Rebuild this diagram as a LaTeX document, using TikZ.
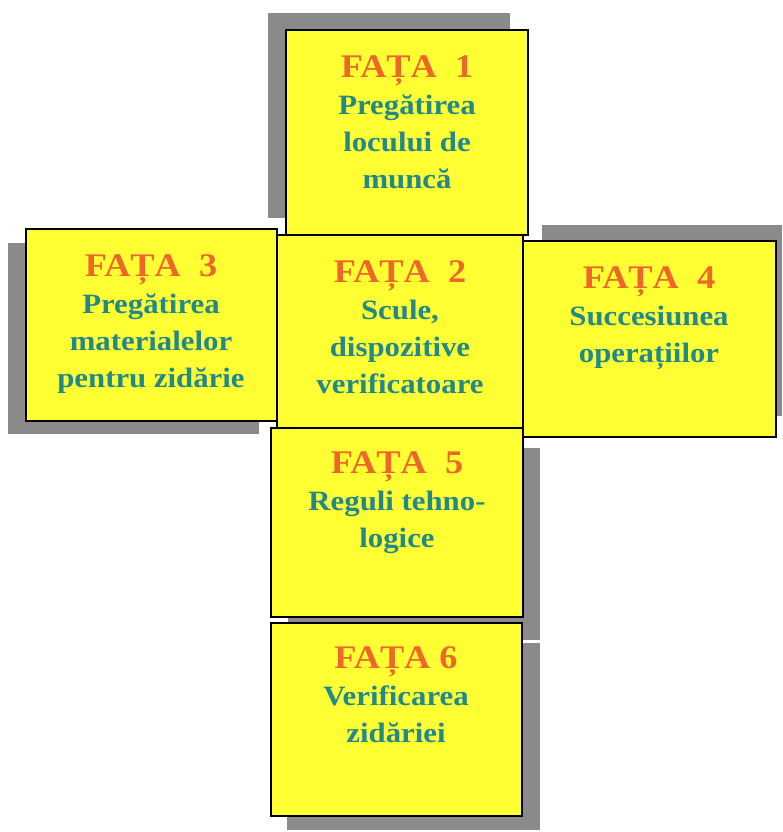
\documentclass[tikz,border=0pt]{standalone}
\usepackage{fontspec}
\setmainfont{Liberation Serif}[FakeStretch=1.1]
\usepackage{tikz}

\definecolor{faceyellow}{HTML}{FFFF33}
\definecolor{shadowgray}{HTML}{8A8A8A}
\definecolor{titleorange}{HTML}{EE6629}
\definecolor{bodyteal}{HTML}{21898A}

\tikzset{
	cubeface/.style={draw=black, line width=1.3pt, fill=faceyellow},
	backshadow/.style={draw=none, fill=shadowgray},
	facetext/.style={anchor=north, align=center, inner sep=0pt, text=bodyteal,
		font=\bfseries\fontsize{28}{37}\selectfont},
	facetitle/.style={text=titleorange, font=\bfseries\fontsize{33}{37}\selectfont}
}

\begin{document}
\begin{tikzpicture}[x=1pt, y=-1pt]
	\useasboundingbox (0, 0) rectangle (782, 832);
	% shadows
	\fill[backshadow] (268, 13) rectangle (510, 218);
	\fill[backshadow] (8, 243) rectangle (259, 434);
	\fill[backshadow] (542, 225) rectangle (782, 416);
	\fill[backshadow] (288, 448) rectangle (540, 640);
	\fill[backshadow] (287, 643) rectangle (540, 830);
	% faces
	\draw[cubeface] (286, 30) rectangle (528, 235);
	\draw[cubeface] (26, 229) rectangle (277, 421);
	\draw[cubeface] (522, 241) rectangle (776, 437);
	\draw[cubeface] (277, 235) rectangle (523, 428);
	\draw[cubeface] (271, 428) rectangle (523, 617);
	\draw[cubeface] (271, 623) rectangle (522, 816);
	% texts
	\node[facetext] (t1) at (407, 56) {{\color{titleorange}\fontsize{33}{37}\selectfont FAȚA\ \ 1}\\ Pregătirea\\ locului de\\ muncă};
	\node[facetext] (t3) at (151, 254) {{\color{titleorange}\fontsize{33}{37}\selectfont FAȚA\ \ 3}\\ Pregătirea\\ materialelor\\ pentru zidărie};
	\node[facetext] (t2) at (400, 260) {{\color{titleorange}\fontsize{33}{37}\selectfont FAȚA\ \ 2}\\ Scule,\\ dispozitive\\ verificatoare};
	\node[facetext] (t4) at (649, 267) {{\color{titleorange}\fontsize{33}{37}\selectfont FAȚA\ \ 4}\\ Succesiunea\\ operațiilor};
	\node[facetext] (t5) at (397, 452) {{\color{titleorange}\fontsize{33}{37}\selectfont FAȚA\ \ 5}\\ Reguli tehno-\\ logice};
	\node[facetext] (t6) at (396, 646) {{\color{titleorange}\fontsize{33}{37}\selectfont FAȚA 6}\\ Verificarea\\ zidăriei};
\end{tikzpicture}
\end{document}
